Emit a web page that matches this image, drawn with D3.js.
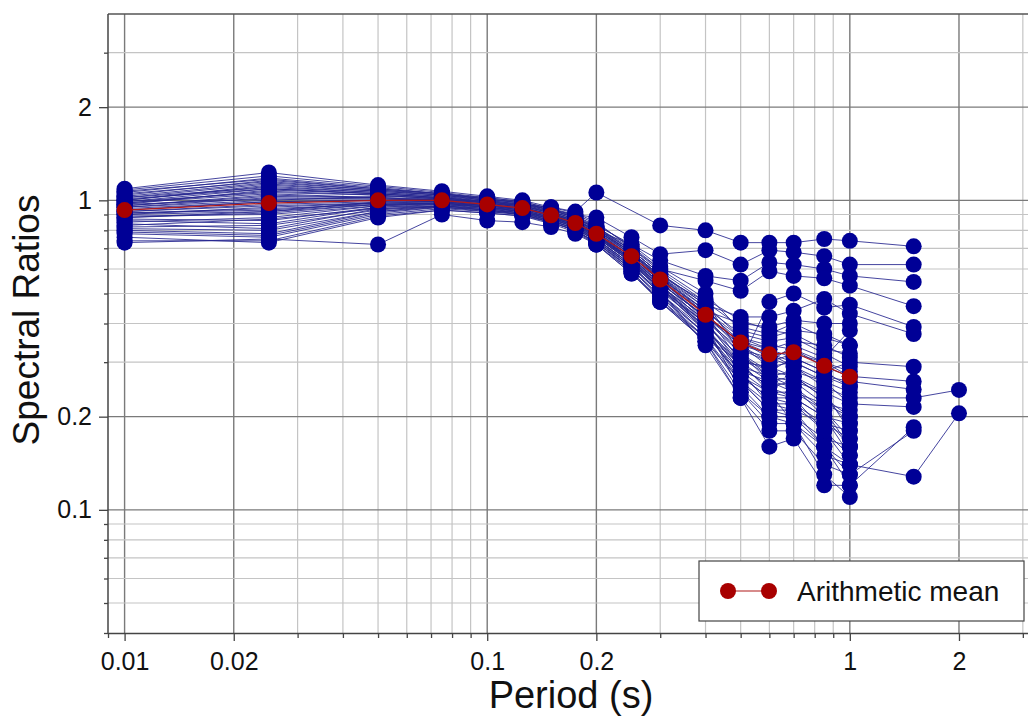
<!DOCTYPE html>
<html>
<head>
<meta charset="utf-8">
<script src="https://cdn.jsdelivr.net/npm/d3@7"></script>
<style>
  body { margin: 0; background: #fff; }
  text { font-family: "Liberation Sans", Arial, sans-serif; fill: #111; }
</style>
</head>
<body>
<div id="chart-area"></div>
<script>
// periods (s) of each column of dots
let periods = [0.01, 0.025, 0.05, 0.075, 0.1, 0.125, 0.15, 0.175, 0.2, 0.25, 0.3, 0.4, 0.5, 0.6, 0.7, 0.85, 1.0, 1.5, 2.0]

// arithmetic mean of the ratios (no mean drawn at 1.5 and 2 s)
let meanRatios = [0.93, 0.98, 1.0, 1.0, 0.97, 0.944, 0.895, 0.845, 0.78, 0.66, 0.555, 0.427, 0.347, 0.318, 0.323, 0.292, 0.269, null, null]

// spectral ratio of each record, one value per period (null = not available)
let records = [
  [0.98,1.05,1.02,1.00,0.99,0.97,0.95,0.92,1.06,null,0.83,0.80,0.73,0.73,0.73,0.75,0.74,0.71,null],
  [1.05,1.15,1.08,1.04,1.01,0.98,0.93,0.90,0.88,0.76,0.67,0.69,0.62,0.69,0.68,0.66,0.62,0.62,null],
  [0.90,0.95,0.98,0.98,0.96,0.94,0.90,0.86,0.80,0.72,0.64,0.57,0.55,0.63,0.62,0.60,0.57,0.545,null],
  [1.09,1.23,1.12,1.07,1.03,1.00,0.95,0.91,0.85,0.70,0.60,0.55,0.51,0.59,0.57,0.56,0.53,0.455,null],
  [0.73,0.75,0.72,0.90,0.86,0.85,0.82,0.78,0.72,0.58,0.48,0.36,0.30,0.47,0.50,0.45,0.46,0.39,null],
  [0.95,1.00,1.03,1.02,0.99,0.96,0.92,0.87,0.82,0.69,0.58,0.46,0.42,0.42,0.44,0.48,0.43,0.37,null],
  [0.88,0.92,0.99,1.01,0.98,0.95,0.90,0.85,0.78,0.66,0.56,0.44,0.40,0.39,0.41,0.40,0.40,null,null],
  [1.02,1.10,1.06,1.03,1.00,0.97,0.93,0.89,0.83,0.72,0.61,0.50,0.38,0.36,0.38,0.37,0.34,null,null],
  [0.80,0.78,0.92,0.96,0.94,0.92,0.88,0.83,0.76,0.64,0.54,0.42,0.35,0.33,0.35,0.34,0.31,null,null],
  [0.93,0.99,1.00,0.99,0.97,0.94,0.89,0.84,0.77,0.65,0.55,0.43,0.33,0.30,0.32,0.30,0.28,null,null],
  [0.97,1.08,1.05,1.02,0.98,0.95,0.90,0.85,0.79,0.67,0.57,0.45,0.34,0.29,0.30,0.27,0.25,null,null],
  [0.85,0.88,0.96,0.98,0.95,0.92,0.87,0.82,0.75,0.62,0.52,0.40,0.31,0.27,0.28,0.26,0.24,null,null],
  [1.00,1.12,1.07,1.04,1.00,0.97,0.92,0.87,0.80,0.68,0.56,0.41,0.29,0.25,0.26,0.24,0.22,0.215,null],
  [0.91,0.94,0.97,0.97,0.95,0.93,0.88,0.83,0.76,0.63,0.53,0.39,0.28,0.24,0.24,0.22,0.21,null,null],
  [0.78,0.76,0.90,0.94,0.92,0.90,0.86,0.81,0.74,0.61,0.50,0.37,0.27,0.23,0.23,0.20,0.19,null,null],
  [1.06,1.18,1.10,1.05,1.02,0.99,0.94,0.89,0.82,0.70,0.59,0.47,0.32,0.28,0.27,0.23,0.20,null,null],
  [0.95,1.02,1.01,1.00,0.97,0.94,0.89,0.84,0.78,0.65,0.54,0.38,0.26,0.22,0.21,0.19,0.18,null,null],
  [0.87,0.86,0.95,0.97,0.94,0.91,0.86,0.81,0.74,0.60,0.49,0.36,0.25,0.20,0.20,0.17,0.16,null,null],
  [0.99,1.06,1.04,1.01,0.98,0.96,0.91,0.86,0.79,0.66,0.55,0.40,0.24,0.19,0.19,0.15,0.14,0.128,0.205],
  [0.82,0.83,0.93,0.96,0.93,0.90,0.85,0.80,0.73,0.59,0.47,0.35,0.23,0.18,0.18,0.14,0.13,0.18,null],
  [0.92,0.97,0.99,0.99,0.96,0.93,0.88,0.83,0.77,0.63,0.51,0.34,0.23,0.16,0.17,0.12,0.12,0.185,null],
  [1.03,1.14,1.08,1.05,1.01,0.98,0.93,0.88,0.81,0.68,0.57,0.43,0.30,0.24,0.19,0.13,0.11,null,null],
  [0.89,0.90,0.96,0.97,0.95,0.92,0.87,0.82,0.75,0.62,0.50,0.37,0.28,0.26,0.25,0.21,0.17,null,null],
  [0.96,1.04,1.02,1.00,0.97,0.94,0.89,0.84,0.78,0.64,0.53,0.41,0.33,0.31,0.29,0.25,0.23,0.23,0.244],
  [0.84,0.81,0.94,0.95,0.93,0.91,0.86,0.81,0.74,0.61,0.51,0.39,0.29,0.27,0.26,0.22,0.20,null,null],
  [1.01,1.09,1.05,1.02,0.99,0.96,0.91,0.86,0.80,0.67,0.56,0.44,0.36,0.34,0.33,0.29,0.27,0.26,null],
  [0.94,0.99,1.00,0.99,0.96,0.93,0.88,0.83,0.77,0.64,0.52,0.38,0.27,0.23,0.22,0.18,0.15,null,null],
  [0.76,0.73,0.88,0.93,0.91,0.89,0.85,0.80,0.72,0.59,0.47,0.36,0.26,0.21,0.21,0.16,0.13,null,null],
  [0.98,1.07,1.04,1.01,0.98,0.95,0.90,0.85,0.79,0.66,0.55,0.42,0.35,0.32,0.30,0.27,0.26,0.245,null],
  [0.90,0.92,0.97,0.98,0.95,0.92,0.87,0.82,0.76,0.63,0.52,0.40,0.31,0.28,0.31,0.28,0.30,0.29,null],
  [1.04,1.16,1.09,1.05,1.01,0.98,0.93,0.88,0.81,0.69,0.58,0.45,0.37,0.35,0.36,0.32,0.29,null,null],
  [0.86,0.84,0.95,0.96,0.94,0.91,0.86,0.81,0.75,0.61,0.50,0.38,0.30,0.29,0.27,0.24,0.18,null,null],
  [0.97,1.01,1.01,1.00,0.97,0.94,0.89,0.84,0.77,0.64,0.53,0.41,0.32,0.26,0.24,0.21,0.16,null,null],
  [0.81,0.80,0.92,0.95,0.92,0.90,0.85,0.80,0.73,0.60,0.48,0.35,0.24,0.20,0.19,0.16,0.14,null,null],
  [1.00,1.11,1.06,1.03,0.99,0.96,0.91,0.86,0.80,0.68,0.57,0.47,0.39,0.37,0.40,0.36,0.34,null,null],
  [0.92,0.96,0.98,0.98,0.96,0.93,0.88,0.84,0.77,0.65,0.54,0.42,0.34,0.30,0.34,0.31,0.38,null,null],
  [1.08,1.20,1.11,1.06,1.02,0.99,0.94,0.90,0.84,0.71,0.60,0.48,0.41,0.38,0.37,0.33,0.32,null,null],
  [0.83,0.87,0.94,0.96,0.93,0.91,0.87,0.82,0.75,0.62,0.52,0.39,0.28,0.22,0.22,0.19,0.17,null,null],
  [0.96,1.03,1.02,1.01,0.98,0.95,0.90,0.85,0.78,0.65,0.54,0.42,0.32,0.27,0.25,0.20,0.15,null,null],
  [0.88,0.91,0.97,0.98,0.95,0.92,0.87,0.83,0.76,0.63,0.52,0.38,0.29,0.25,0.23,0.18,0.14,null,null],
  [1.02,1.13,1.07,1.04,1.00,0.97,0.92,0.87,0.81,0.68,0.57,0.44,0.35,0.31,0.33,0.30,0.27,null,null],
  [0.74,0.74,0.89,0.93,0.91,0.89,0.84,0.79,0.72,0.58,0.47,0.35,0.26,0.21,0.20,0.16,0.12,null,null],
  [0.99,1.09,1.05,1.02,0.99,0.96,0.91,0.86,0.80,0.67,0.56,0.43,0.34,0.32,0.29,0.26,0.22,null,null],
  [0.91,0.93,0.98,0.99,0.96,0.94,0.89,0.84,0.77,0.64,0.53,0.40,0.30,0.26,0.27,0.23,0.19,null,null],
  [1.07,1.17,1.09,1.05,1.01,0.98,0.93,0.88,0.82,0.69,0.58,0.46,0.36,0.33,0.31,0.28,0.25,null,null],
  [0.79,0.77,0.91,0.95,0.93,0.90,0.85,0.80,0.73,0.60,0.49,0.37,0.27,0.24,0.23,0.20,0.16,null,null]
]

let xTicks = [0.009,0.01,0.02,0.03,0.04,0.05,0.06,0.07,0.08,0.09,0.1,0.2,0.3,0.4,0.5,0.6,0.7,0.8,0.9,1,2,3]
let xLabels = [0.01,0.02,0.1,0.2,1,2]
let yTicks = [0.05,0.06,0.07,0.08,0.09,0.1,0.2,0.3,0.4,0.5,0.6,0.7,0.8,0.9,1,2,3]
let yLabels = [0.1,0.2,1,2]

let width = 1028
let height = 719
let mLeft = 108, mRight = 1028, mTop = 14, mBottom = 633

let svg = d3.select("#chart-area")
            .append('svg')
            .attr('width', width)
            .attr('height', height)

let x = d3.scaleLog().domain([0.009, 3.1]).range([mLeft, mRight])
let y = d3.scaleLog().domain([0.04, 4]).range([mBottom, mTop])

// grid
let isMajor = (list, v) => list.some(l => Math.abs(l - v) < 1e-9)
svg.append('g').selectAll('line')
    .data(xTicks.filter(v => v > 0.0095))
    .enter().append('line')
    .attr('x1', d => x(d)).attr('x2', d => x(d))
    .attr('y1', mTop).attr('y2', mBottom)
    .attr('stroke', d => isMajor(xLabels, d) ? '#7a7a7a' : '#c4c4c4')
    .attr('stroke-width', d => isMajor(xLabels, d) ? 1.4 : 1.2)
svg.append('g').selectAll('line')
    .data(yTicks)
    .enter().append('line')
    .attr('x1', mLeft).attr('x2', mRight)
    .attr('y1', d => y(d)).attr('y2', d => y(d))
    .attr('stroke', d => isMajor(yLabels, d) ? '#7a7a7a' : '#c4c4c4')
    .attr('stroke-width', d => isMajor(yLabels, d) ? 1.4 : 1.2)

// top border
svg.append('line')
    .attr('x1', mLeft).attr('x2', mRight)
    .attr('y1', mTop).attr('y2', mTop)
    .attr('stroke', '#555').attr('stroke-width', 1.5)

// axes
let fmt = d => isMajor(xLabels, d) ? String(d) : ''
let xAxis = svg.append('g')
    .attr('transform', `translate(0,${mBottom})`)
    .call(d3.axisBottom(x).tickValues(xTicks).tickFormat(fmt).tickSizeOuter(0).tickPadding(13))
xAxis.selectAll('.tick line').attr('y2', d => isMajor(xLabels, d) ? 8 : 5)

let yAxis = svg.append('g')
    .attr('transform', `translate(${mLeft},0)`)
    .call(d3.axisLeft(y).tickValues(yTicks.concat([0.04])).tickFormat(d => isMajor(yLabels, d) ? String(d) : '').tickSizeOuter(0).tickPadding(10))
yAxis.selectAll('.tick line').attr('x2', d => isMajor(yLabels, d) ? -9 : -4)

svg.selectAll('.domain').attr('stroke', '#444').attr('stroke-width', 1.5)
svg.selectAll('.tick line').attr('stroke', '#444').attr('stroke-width', 1.3)
svg.selectAll('.tick text')
    .style('font-family', '"Liberation Sans", Arial, sans-serif')
    .style('font-size', '25px').attr('fill', '#111')
yAxis.select('.domain').attr('d', `M0,${mBottom}V${mTop}`)

// record lines
let line = d3.line()
    .x(d => x(d.p))
    .y(d => y(d.v))

let recPts = records.map(r => r.map((v, i) => ({ p: periods[i], v: v })).filter(d => d.v != null))

let plot = svg.append('g')
plot.selectAll('.rec')
    .data(recPts)
    .enter().append('path')
    .attr('class', 'rec')
    .attr('d', line)
    .attr('fill', 'none')
    .attr('stroke', '#24248e')
    .attr('stroke-opacity', 0.85)
    .attr('stroke-width', 1)

plot.selectAll('.dot')
    .data(recPts.flat())
    .enter().append('circle')
    .attr('class', 'dot')
    .attr('cx', d => x(d.p))
    .attr('cy', d => y(d.v))
    .attr('r', 8)
    .attr('fill', '#000096')

// mean
let meanPts = meanRatios.map((v, i) => ({ p: periods[i], v: v })).filter(d => d.v != null)
plot.append('path')
    .attr('d', line(meanPts))
    .attr('fill', 'none')
    .attr('stroke', '#b01818')
    .attr('stroke-width', 1.2)
plot.selectAll('.mean')
    .data(meanPts)
    .enter().append('circle')
    .attr('class', 'mean')
    .attr('cx', d => x(d.p))
    .attr('cy', d => y(d.v))
    .attr('r', 8)
    .attr('fill', '#a80000')

// axis titles
svg.append('text')
    .attr('x', 571)
    .attr('y', 708)
    .attr('text-anchor', 'middle')
    .style('font-size', '38px')
    .text('Period (s)')
svg.append('text')
    .attr('transform', 'translate(39,320) rotate(-90)')
    .attr('text-anchor', 'middle')
    .style('font-size', '37px')
    .text('Spectral Ratios')

// legend
let lg = svg.append('g')
lg.append('rect')
    .attr('x', 699).attr('y', 561)
    .attr('width', 325).attr('height', 60)
    .attr('fill', '#fff')
    .attr('stroke', '#444').attr('stroke-width', 1.2)
lg.append('line')
    .attr('x1', 728).attr('x2', 769).attr('y1', 591).attr('y2', 591)
    .attr('stroke', '#b01818').attr('stroke-width', 1.2)
lg.selectAll('circle')
    .data([728, 769])
    .enter().append('circle')
    .attr('cx', d => d).attr('cy', 591).attr('r', 8)
    .attr('fill', '#a80000')
lg.append('text')
    .attr('x', 797).attr('y', 601)
    .style('font-size', '28px')
    .text('Arithmetic mean')
</script>
</body>
</html>
